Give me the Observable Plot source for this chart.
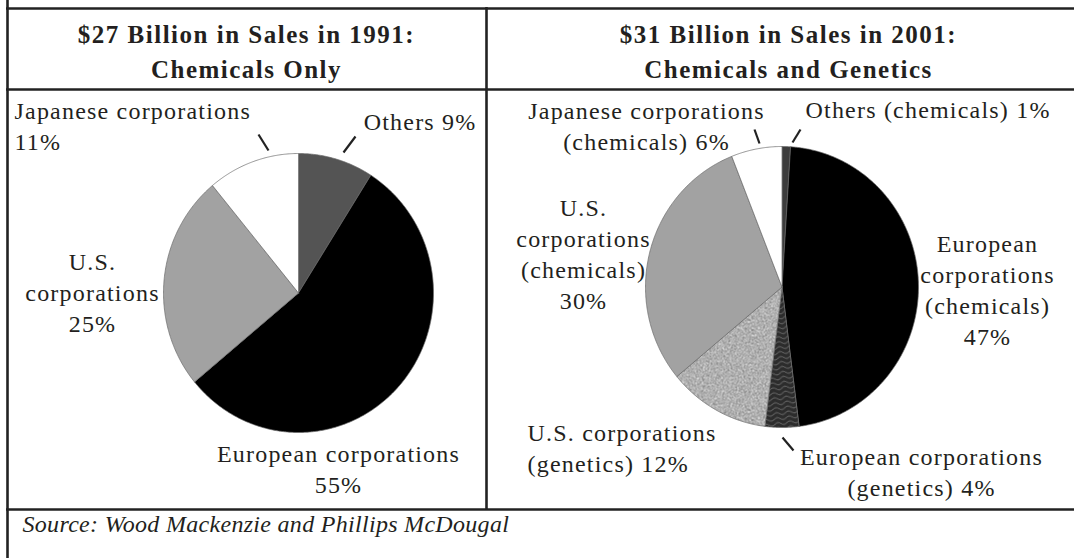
<!DOCTYPE html>
<html><head><meta charset="utf-8">
<script src="https://cdn.jsdelivr.net/npm/d3@7"></script>
<script src="https://cdn.jsdelivr.net/npm/@observablehq/plot@0.6"></script>
<style>
html,body{margin:0;padding:0;background:#fff;}
#chart{position:relative;width:1074px;height:558px;overflow:hidden;}
#defs{position:absolute;width:0;height:0;}
</style></head><body>
<svg id="defs" width="0" height="0" aria-hidden="true">
  <defs>
    <filter id="noiseF" filterUnits="userSpaceOnUse" x="0" y="0" width="90" height="90" color-interpolation-filters="sRGB">
      <feTurbulence type="fractalNoise" baseFrequency="0.85" numOctaves="2" seed="4" stitchTiles="stitch"/>
      <feColorMatrix type="matrix" values="0.8 0 0 0 0.29  0.8 0 0 0 0.29  0.8 0 0 0 0.29  0 0 0 0 1"/>
    </filter>
    <pattern id="speckle" patternUnits="userSpaceOnUse" width="90" height="90">
      <rect width="90" height="90" fill="#adadad" filter="url(#noiseF)"/>
    </pattern>
    <pattern id="wavy" patternUnits="userSpaceOnUse" width="12" height="5" patternTransform="rotate(-8)">
      <rect width="12" height="5" fill="#2c2c2c"/>
      <path d="M0 2.5 C3 0.6 3 0.6 6 2.5 S9 4.4 12 2.5" stroke="#727272" stroke-width="0.9" fill="none"/>
    </pattern>
  </defs>
</svg>
<div id="chart"></div>
<script>
// ---------------- data ----------------
const titles = ["$27 Billion in Sales in 1991:\nChemicals Only", "$31 Billion in Sales in 2001:\nChemicals and Genetics"];
const segments1991 = ["Others", "European corporations", "U.S. corporations", "Japanese corporations"];
const shares1991 = [9, 55, 25, 11];
const segments2001 = ["Others (chemicals)", "European corporations (chemicals)", "European corporations (genetics)", "U.S. corporations (genetics)", "U.S. corporations (chemicals)", "Japanese corporations (chemicals)"];
const shares2001 = [1, 47, 4, 12, 30, 6];
const labelText1991 = ["Others {v}%", "European corporations\n{v}%", "U.S.\ncorporations\n{v}%", "Japanese corporations\n{v}%"];
const labelText2001 = ["Others (chemicals) {v}%", "European\ncorporations\n(chemicals)\n{v}%", "European corporations\n(genetics) {v}%", "U.S. corporations\n(genetics) {v}%", "U.S.\ncorporations\n(chemicals)\n{v}%", "Japanese corporations\n(chemicals) {v}%"];
const sourceNote = "Source: Wood Mackenzie and Phillips McDougal";

// ---------------- styles / layout ----------------
const fills1991 = ["#545454", "#000000", "#a2a2a2", "#ffffff"];
const fills2001 = ["#3c3c3c", "#000000", "url(#wavy)", "url(#speckle)", "#a2a2a2", "#ffffff"];
const W = 1074, H = 558;
const pieGeom = [{cx: 298, cy: 292.5, rx: 135, ry: 139.5}, {cx: 781.5, cy: 286.5, rx: 136.5, ry: 140.5}];
const titlePos = [{x: 246, y: 48.5}, {x: 788, y: 48.5}];
const labelPos1991 = [
  {x: 476, y: 119.5, anchor: "end"},
  {x: 338, y: 467, anchor: "middle"},
  {x: 92, y: 291, anchor: "middle"},
  {x: 14, y: 124, anchor: "start"}
];
const labelPos2001 = [
  {x: 805, y: 107.5, anchor: "start"},
  {x: 987, y: 288, anchor: "middle"},
  {x: 921, y: 470, anchor: "middle"},
  {x: 527, y: 446, anchor: "start"},
  {x: 583, y: 252, anchor: "middle"},
  {x: 646, y: 124, anchor: "middle"}
];
const leaders = [
  {x1: 258, y1: 134, x2: 268, y2: 150},
  {x1: 355, y1: 136, x2: 343, y2: 152},
  {x1: 754, y1: 129, x2: 759, y2: 143},
  {x1: 800, y1: 129, x2: 792, y2: 142},
  {x1: 782, y1: 437, x2: 793, y2: 450}
];
const frameH = [{y: 8, x1: 6, x2: W}, {y: 89, x1: 6, x2: W}, {y: 509, x1: 6, x2: W}];
const frameV = [{x: 7, y1: 0, y2: H}, {x: 486, y1: 7, y2: 510}];
const sourcePos = {x: 22, y: 524};
const FONT = "'Liberation Serif', 'Times New Roman', serif";
const INK = "#231f20";

// ---------------- build ----------------
function slices(names, values, fills, g) {
  const arcs = d3.pie().sort(null).value(d => d)(values);
  return arcs.map((a, i) => {
    const pts = [{x: g.cx, y: g.cy}];
    const n = Math.max(2, Math.ceil((a.endAngle - a.startAngle) / (Math.PI / 360)));
    for (let k = 0; k <= n; k++) {
      const t = a.startAngle + (a.endAngle - a.startAngle) * k / n;
      pts.push({x: g.cx + g.rx * Math.sin(t), y: g.cy - g.ry * Math.cos(t)});
    }
    pts.push({x: g.cx, y: g.cy});
    return {name: names[i], value: values[i], fill: fills[i], pts};
  });
}
const pie1 = slices(segments1991, shares1991, fills1991, pieGeom[0]);
const pie2 = slices(segments2001, shares2001, fills2001, pieGeom[1]);

const labels = [
  ...segments1991.map((s, i) => ({...labelPos1991[i], text: labelText1991[i].replace("{v}", shares1991[i])})),
  ...segments2001.map((s, i) => ({...labelPos2001[i], text: labelText2001[i].replace("{v}", shares2001[i])}))
];
const titleData = titles.map((t, i) => ({...titlePos[i], text: t}));

const sliceMarks = [...pie1, ...pie2].map(s =>
  Plot.line(s.pts, {x: "x", y: "y", fill: s.fill, stroke: "#6a6a6a", strokeWidth: 0.7, strokeLinejoin: "round"})
);

const chart = Plot.plot({
  width: W, height: H,
  margin: 0,
  x: {domain: [0, W], range: [0, W], axis: null},
  y: {domain: [0, H], range: [0, H], axis: null},
  style: {background: "#fff", fontFamily: FONT, overflow: "visible"},
  marks: [
    ...sliceMarks,
    Plot.ruleY(frameH, {y: "y", x1: "x1", x2: "x2", stroke: "#222", strokeWidth: 2.6}),
    Plot.ruleX(frameV, {x: "x", y1: "y1", y2: "y2", stroke: "#222", strokeWidth: 2.6}),
    Plot.link(leaders, {x1: "x1", y1: "y1", x2: "x2", y2: "y2", stroke: "#222", strokeWidth: 2.2}),
    Plot.text(titleData, {x: "x", y: "y", text: "text", textAnchor: "middle", lineAnchor: "middle",
      fontSize: 25, fontWeight: "bold", lineHeight: 1.4, fill: INK, fontFamily: FONT}),
    ...labels.map(l => Plot.text([l], {x: "x", y: "y", text: "text", textAnchor: l.anchor, lineAnchor: "middle",
      fontSize: 24, lineHeight: 1.29, fill: INK, fontFamily: FONT})),
    Plot.text([{...sourcePos, text: sourceNote}], {x: "x", y: "y", text: "text", textAnchor: "start", lineAnchor: "middle",
      fontSize: 24, fontStyle: "italic", lineHeight: 1, fill: INK, fontFamily: FONT})
  ]
});
// per-group letter spacing to match the wider book face of the original
d3.select(chart).selectAll("text").each(function() {
  const g = this.closest("g");
  const bold = g && g.getAttribute("font-weight") === "bold";
  const ital = g && g.getAttribute("font-style") === "italic";
  this.setAttribute("letter-spacing", bold ? "1.5" : ital ? "0.3" : "1.2");
});
document.getElementById("chart").appendChild(chart);
</script>
</body></html>
